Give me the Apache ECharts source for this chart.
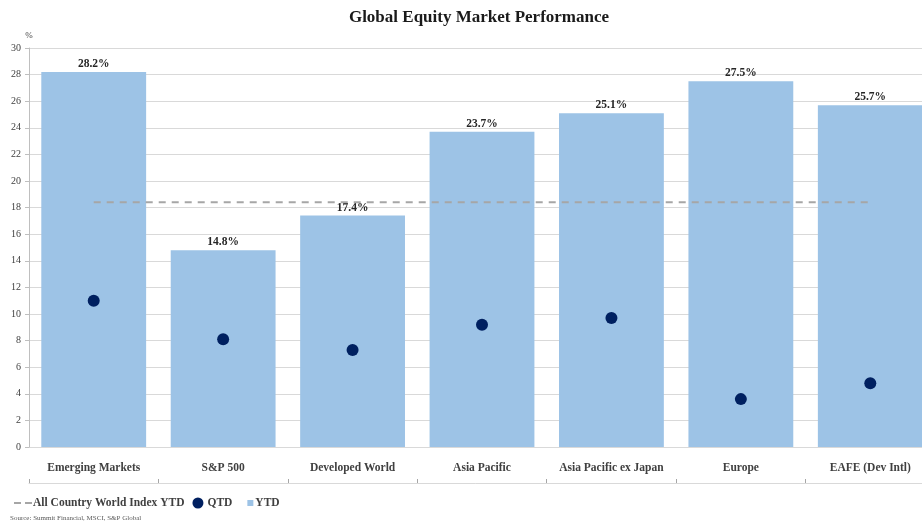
<!DOCTYPE html>
<html>
<head>
<meta charset="utf-8">
<script src="https://cdn.jsdelivr.net/npm/echarts@6/dist/echarts.min.js"></script>
<style>html,body{margin:0;padding:0;background:#fff;}#c{width:922px;height:525px;}</style>
</head>
<body>
<div id="c"></div>
<script>
const categories = ['Emerging Markets','S&P 500','Developed World','Asia Pacific','Asia Pacific ex Japan','Europe','EAFE (Dev Intl)'];
const ytd = [28.2, 14.8, 17.4, 23.7, 25.1, 27.5, 25.7];
const qtd = [11.0, 8.1, 7.3, 9.2, 9.7, 3.6, 4.8];
const acwiYtd = [18.4, 18.4, 18.4, 18.4, 18.4, 18.4, 18.4];

const serif = '"Liberation Serif", "DejaVu Serif", serif';
const chart = echarts.init(document.getElementById('c'));
chart.setOption({
  animation: false,
  backgroundColor: '#ffffff',
  title: {
    text: 'Global Equity Market Performance',
    left: 474, top: 4, textAlign: 'center',
    textStyle: { fontFamily: serif, fontWeight: 'bold', fontSize: 17, color: '#1a1a1a' }
  },
  legend: {
    left: 8, top: 492, itemGap: 3, itemWidth: 20, itemHeight: 12,
    symbolKeepAspect: true,
    data: [
      { name: 'All Country World Index YTD', icon: 'path://M0,0 M20,12 M1,5 H8 V7 H1 Z M12,5 H19 V7 H12 Z' },
      { name: 'QTD', icon: 'path://M0,0 M20,12 M16,6 A5.5,5.5 0 1 1 5,6 A5.5,5.5 0 1 1 16,6 Z' },
      { name: 'YTD', icon: 'path://M0,0 M20,12 M12,3 H18 V9 H12 Z' }
    ],
    textStyle: { fontFamily: serif, fontWeight: 'bold', fontSize: 11.5, color: '#404040', padding: [0,0,0,-5] }
  },
  graphic: [{
    type: 'text', left: 10, top: 515,
    style: { text: 'Source: Summit Financial, MSCI, S&P Global', font: '7px ' + serif, fill: '#595959' }
  }],
  grid: { left: 29, top: 48, width: 906, bottom: 78, containLabel: false, outerBoundsMode: 'none' },
  xAxis: [{
    type: 'category', data: categories,
    axisLine: { show: false }, axisTick: { show: false },
    axisLabel: { margin: 15, fontFamily: serif, fontWeight: 'bold', fontSize: 11.5, color: '#404040', interval: 0 }
  }, {
    type: 'category', data: categories, position: 'bottom', offset: 36,
    axisLine: { show: true, lineStyle: { color: '#D9D9D9', width: 1 } },
    axisTick: { show: true, inside: true, length: 4, interval: 0, lineStyle: { color: '#A6A6A6' } },
    axisLabel: { show: false }
  }],
  yAxis: {
    type: 'value', min: 0, max: 30, interval: 2,
    name: '%', nameLocation: 'end', nameGap: 8,
    nameTextStyle: { fontFamily: serif, fontSize: 9, color: '#404040', align: 'center' },
    axisLine: { show: true, lineStyle: { color: '#BFBFBF' } },
    axisTick: { show: true, length: 4, lineStyle: { color: '#BFBFBF' } },
    axisLabel: { fontFamily: serif, fontSize: 10, color: '#404040', margin: 8 },
    splitLine: { lineStyle: { color: '#D9D9D9', width: 1 } }
  },
  series: [{
    name: 'YTD', type: 'bar', data: ytd, barCategoryGap: '19%',
    itemStyle: { color: '#9DC3E6' },
    label: { show: true, position: 'top', distance: 2, formatter: '{c}%', fontFamily: serif, fontWeight: 'bold', fontSize: 11.5, color: '#262626' }
  }, {
    name: 'All Country World Index YTD', type: 'line', data: acwiYtd, symbol: 'none',
    lineStyle: { color: '#A6A6A6', width: 2, type: [7, 6] }, itemStyle: { color: '#A6A6A6' }, z: 3
  }, {
    name: 'QTD', type: 'scatter', data: qtd, symbolSize: 12,
    itemStyle: { color: '#002060', opacity: 1 }, z: 4
  }]
});
</script>
</body>
</html>
